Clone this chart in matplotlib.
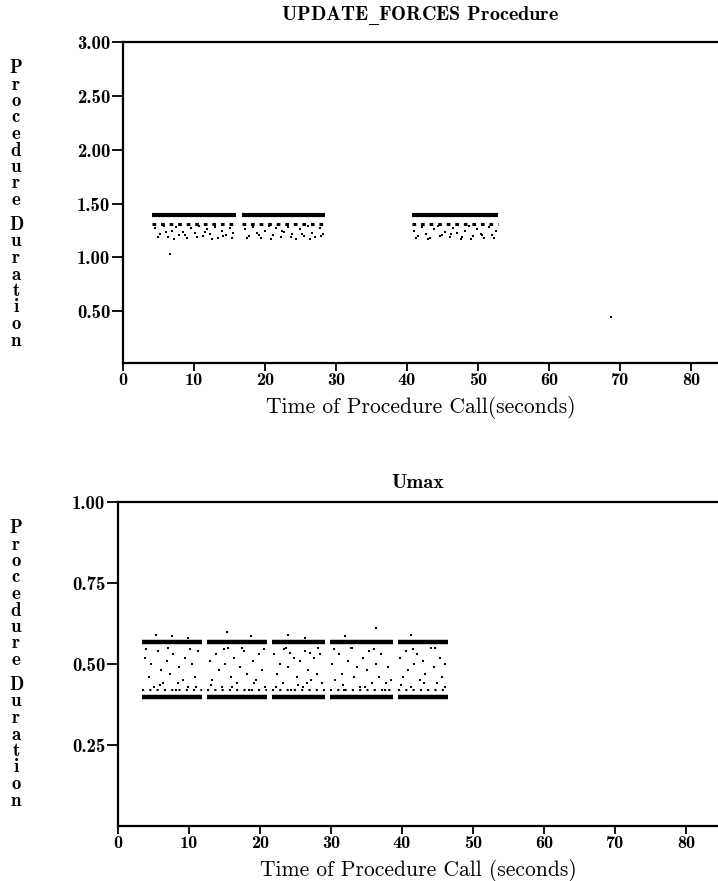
import matplotlib
matplotlib.use("Agg")
import matplotlib.pyplot as plt

# ---------------- data ----------------
# Top panel: UPDATE_FORCES Procedure
top_band_start = [4.1, 16.8, 40.7]
top_band_end = [15.9, 28.4, 52.8]
top_band_level = 1.39
top_sub_level = 1.31
top_x = [4.5, 5.2, 5.8, 6.3, 6.9, 7.4, 7.9, 8.5, 9.0, 9.6, 10.1, 10.7, 11.2, 11.8, 12.3, 12.9, 13.4, 13.9, 14.5, 15.0, 15.5, 6.6,
         4.9, 6.1, 7.2, 8.8, 10.4, 11.5, 12.6, 14.1, 15.3,
         17.2, 17.8, 18.3, 18.9, 19.4, 20.0, 20.5, 21.1, 21.6, 22.2, 22.7, 23.3, 23.8, 24.4, 24.9, 25.5, 26.0, 26.6, 27.1, 27.7, 28.1,
         17.5, 19.1, 20.8, 22.4, 23.6, 25.2, 26.3, 27.9,
         41.0, 41.6, 42.1, 42.7, 43.2, 43.8, 44.3, 44.9, 45.4, 46.0, 46.5, 47.1, 47.6, 48.2, 48.7, 49.3, 49.8, 50.4, 50.9, 51.5, 52.0, 52.5,
         41.3, 42.9, 44.6, 46.2, 47.8, 49.0, 50.6, 52.2,
         68.8]
top_y = [1.27, 1.22, 1.29, 1.19, 1.25, 1.28, 1.21, 1.24, 1.18, 1.27, 1.23, 1.29, 1.20, 1.26, 1.22, 1.28, 1.18, 1.25, 1.21, 1.27, 1.23, 1.03,
         1.19, 1.24, 1.17, 1.21, 1.19, 1.24, 1.17, 1.20, 1.18,
         1.26, 1.20, 1.28, 1.23, 1.18, 1.25, 1.29, 1.21, 1.27, 1.19, 1.24, 1.28, 1.22, 1.17, 1.26, 1.20, 1.29, 1.23, 1.19, 1.27, 1.22,
         1.18, 1.21, 1.17, 1.25, 1.19, 1.22, 1.17, 1.20,
         1.25, 1.20, 1.28, 1.22, 1.18, 1.26, 1.29, 1.21, 1.24, 1.19, 1.27, 1.23, 1.17, 1.25, 1.29, 1.20, 1.26, 1.22, 1.18, 1.28, 1.21, 1.25,
         1.18, 1.17, 1.20, 1.22, 1.19, 1.17, 1.21, 1.18,
         0.45]

# Bottom panel: Umax
bot_band_start = [3.4, 12.5, 21.7, 29.9, 39.4]
bot_band_end = [11.8, 21.0, 29.2, 38.7, 46.5]
bot_band_high = 0.568
bot_band_low = 0.398
bot_sub_level = 0.42
bot_x = [3.8, 4.3, 4.7, 5.1, 5.6, 6.0, 6.4, 6.9, 7.3, 7.8, 8.2, 8.6, 9.1, 9.5, 9.9, 10.4, 10.8, 11.3, 5.3, 7.6, 9.8,
         4.0, 5.9, 7.0, 8.4, 10.1, 11.0,
         12.9, 13.3, 13.8, 14.2, 14.6, 15.1, 15.5, 15.9, 16.4, 16.8, 17.2, 17.7, 18.1, 18.5, 19.0, 19.4, 19.8, 20.3, 20.7, 15.4, 18.8,
         13.1, 14.9, 16.1, 17.5, 19.2, 20.5,
         22.0, 22.4, 22.8, 23.2, 23.6, 24.0, 24.4, 24.8, 25.2, 25.6, 26.0, 26.4, 26.8, 27.2, 27.6, 28.0, 28.4, 28.8, 23.9, 26.3, 24.2, 27.0,
         22.2, 23.4, 25.4, 26.6, 28.2,
         30.2, 30.6, 31.1, 31.5, 31.9, 32.4, 32.8, 33.2, 33.7, 34.1, 34.5, 35.0, 35.4, 35.8, 36.3, 36.7, 37.1, 37.6, 38.0, 38.4, 32.0, 36.3,
         30.4, 31.7, 33.0, 34.8, 36.0, 37.8,
         39.7, 40.1, 40.5, 40.9, 41.3, 41.7, 42.1, 42.5, 42.9, 43.3, 43.7, 44.1, 44.5, 44.9, 45.3, 45.7, 46.1, 41.2,
         39.9, 41.5, 43.1, 44.7, 46.0]
bot_y = [0.52, 0.46, 0.50, 0.43, 0.54, 0.48, 0.44, 0.51, 0.47, 0.53, 0.42, 0.49, 0.45, 0.52, 0.43, 0.50, 0.46, 0.54, 0.59, 0.585, 0.58,
         0.545, 0.435, 0.55, 0.44, 0.545, 0.43,
         0.51, 0.45, 0.53, 0.48, 0.43, 0.50, 0.55, 0.46, 0.52, 0.44, 0.49, 0.54, 0.47, 0.42, 0.51, 0.45, 0.53, 0.48, 0.43, 0.60, 0.585,
         0.435, 0.545, 0.43, 0.55, 0.44, 0.545,
         0.53, 0.47, 0.50, 0.44, 0.55, 0.49, 0.42, 0.52, 0.46, 0.51, 0.43, 0.54, 0.48, 0.45, 0.52, 0.47, 0.53, 0.44, 0.59, 0.58, 0.535, 0.535,
         0.43, 0.545, 0.435, 0.44, 0.55,
         0.50, 0.45, 0.53, 0.47, 0.42, 0.51, 0.55, 0.46, 0.49, 0.43, 0.52, 0.48, 0.54, 0.44, 0.50, 0.46, 0.53, 0.42, 0.49, 0.45, 0.585, 0.61,
         0.545, 0.435, 0.55, 0.43, 0.545, 0.44,
         0.52, 0.46, 0.54, 0.48, 0.43, 0.50, 0.53, 0.45, 0.51, 0.47, 0.42, 0.55, 0.49, 0.44, 0.52, 0.46, 0.50, 0.59,
         0.435, 0.545, 0.44, 0.55, 0.43]

x_ticks = [0, 10, 20, 30, 40, 50, 60, 70, 80]
top_yticks = [0.50, 1.00, 1.50, 2.00, 2.50, 3.00]
bot_yticks = [0.25, 0.50, 0.75, 1.00]
top_title = r"UPDATE$\_$FORCES Procedure"
bot_title = "Umax"
xlabel_top = "Time of Procedure Call(seconds)"
xlabel_bot = "Time of Procedure Call (seconds)"
ylabel = "Procedure Duration"

# ---------------- figure ----------------
W, H = 718, 881
plt.rcParams['axes.unicode_minus'] = False
plt.rcParams['mathtext.fontset'] = 'dejavuserif'
fig = plt.figure(figsize=(W / 100, H / 100), dpi=100)
BOLD = ['cmb10', 'DejaVu Serif']
ROMAN = ['cmr10', 'DejaVu Serif']


def style_axes(ax, yticks, title, xlabel, title_pad):
    ax.spines['right'].set_visible(False)
    for s in ['left', 'bottom', 'top']:
        ax.spines[s].set_linewidth(1.6)
    ax.set_xticks(x_ticks)
    ax.set_xticklabels([str(t) for t in x_ticks], fontfamily=BOLD, fontsize=13)
    ax.set_yticks(yticks)
    ax.set_yticklabels(["%.2f" % t for t in yticks], fontfamily=BOLD, fontsize=13.5)
    ax.tick_params(axis='x', direction='out', length=6, width=1.3, pad=1, colors='black')
    ax.tick_params(axis='y', direction='out', length=8, width=1.3, pad=1, colors='black')
    ax.set_title(title, fontfamily=BOLD, fontsize=14.5, pad=title_pad)
    ax.set_xlabel(xlabel, fontfamily=ROMAN, fontsize=15.5, labelpad=6)


def stacked_label(top_px, xc_px=16):
    y = top_px
    for ch in ylabel:
        if ch == ' ':
            y += 8.5
            continue
        fig.text(xc_px / W, 1 - y / H, ch, fontfamily=BOLD, fontsize=13.5,
                 ha='center', va='center')
        y += 16.5


# Top axes
ax1 = fig.add_axes([123 / W, 1 - 363 / H, (W - 123) / W, (363 - 42) / H])
ax1.set_xlim(0, (W - 123) / 7.1)
ax1.set_ylim(0.02, 3.0)
ax1.hlines([top_band_level] * len(top_band_start), top_band_start, top_band_end, colors='black', linewidth=3.0)
ax1.hlines([top_sub_level] * len(top_band_start), top_band_start, top_band_end, colors='black',
           linewidth=2.2, linestyles=(0, (1.2, 1.6)))
ax1.plot(top_x, top_y, linestyle='none', marker='s', markersize=2.0, color='black', markeredgewidth=0)
style_axes(ax1, top_yticks, top_title, xlabel_top, 16)
stacked_label(68)

# Bottom axes
ax2 = fig.add_axes([118 / W, 1 - 826 / H, (W - 118) / W, (826 - 502) / H])
ax2.set_xlim(0, (W - 118) / 7.1)
ax2.set_ylim(0.0, 1.0)
ax2.hlines([bot_band_high] * len(bot_band_start), bot_band_start, bot_band_end, colors='black', linewidth=3.2)
ax2.hlines([bot_band_low] * len(bot_band_start), bot_band_start, bot_band_end, colors='black', linewidth=3.2)
ax2.hlines([bot_sub_level] * len(bot_band_start), bot_band_start, bot_band_end, colors='black',
           linewidth=1.5, linestyles=(0, (1.0, 2.5)))
ax2.plot(bot_x, bot_y, linestyle='none', marker='s', markersize=1.8, color='black', markeredgewidth=0)
style_axes(ax2, bot_yticks, bot_title, xlabel_bot, 10)
stacked_label(528)

fig.savefig("out.png", dpi=100)
